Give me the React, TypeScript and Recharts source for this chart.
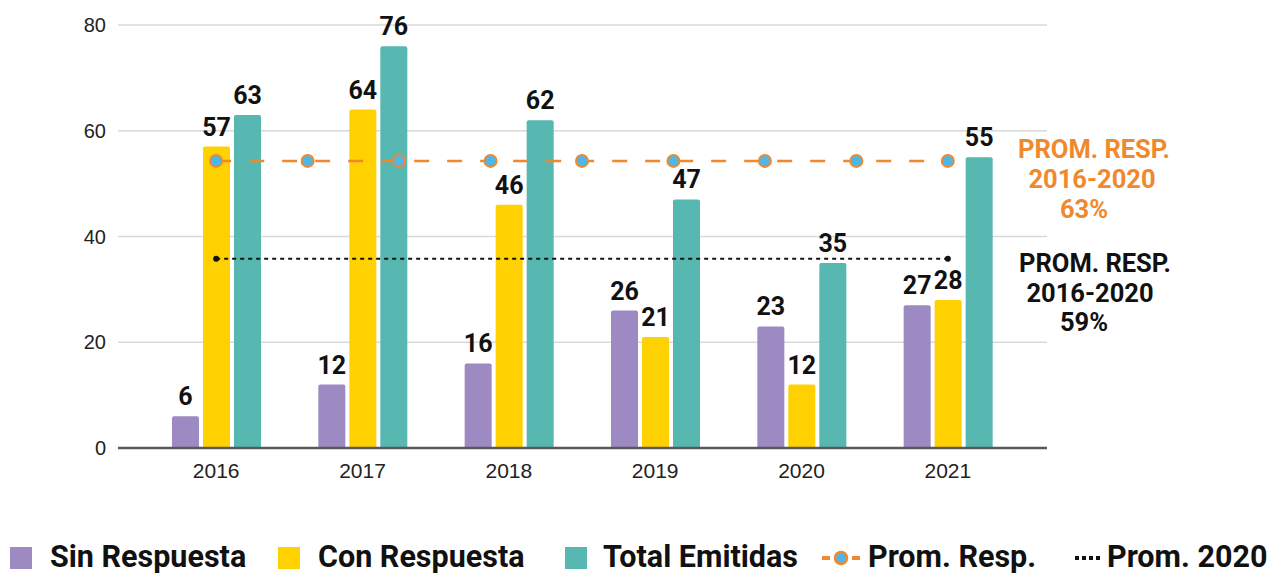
import React from 'react';
import { ComposedChart, Bar, Line, XAxis, YAxis, CartesianGrid, LabelList } from 'recharts';

const years = ['2016', '2017', '2018', '2019', '2020', '2021'];
const sinRespuesta = [6, 12, 16, 26, 23, 27];
const conRespuesta = [57, 64, 46, 21, 12, 28];
const totalEmitidas = [63, 76, 62, 47, 35, 55];
const yTicks = [0, 20, 40, 60, 80];

// Average lines (x = position along the year index axis)
const promRespX = [0, 0.625, 1.25, 1.875, 2.5, 3.125, 3.75, 4.375, 5];
const promRespY = [54.3, 54.3, 54.3, 54.3, 54.3, 54.3, 54.3, 54.3, 54.3];
const prom2020X = [0, 5];
const prom2020Y = [35.8, 35.8];

const annotOrange = ['PROM. RESP.', '2016-2020', '63%'];
const annotBlack = ['PROM. RESP.', '2016-2020', '59%'];
const legendLabels = ['Sin Respuesta', 'Con Respuesta', 'Total Emitidas', 'Prom. Resp.', 'Prom. 2020'];

const PURPLE = '#9e8ac2';
const YELLOW = '#ffd100';
const TEAL = '#57b7b1';
const ORANGE = '#f0892e';
const DOTBLUE = '#4db8e8';
const BOLD = 'Roboto, "Noto Sans", sans-serif';
const REG = '"Liberation Sans", Arial, sans-serif';

const data = years.map((y, i) => ({
  year: y,
  sin: sinRespuesta[i],
  con: conRespuesta[i],
  total: totalEmitidas[i],
}));
const promRespData = promRespX.map((x, i) => ({ x, v: promRespY[i] }));
const prom2020Data = prom2020X.map((x, i) => ({ x, v: prom2020Y[i] }));

const labelProps = {
  position: 'top' as const,
  offset: 11,
  fill: '#111',
  fontSize: 25,
  fontWeight: 700,
  fontFamily: BOLD,
};

const Square = ({ color }: { color: string }) => (
  <svg width={22} height={22} style={{ display: 'block' }}>
    <rect x={0} y={0} width={22} height={22} fill={color} />
  </svg>
);

export default function App() {
  const legendText: React.CSSProperties = {
    position: 'absolute',
    top: 541,
    fontFamily: BOLD,
    fontWeight: 700,
    fontSize: 30.5,
    lineHeight: '31px',
    color: '#111',
    whiteSpace: 'nowrap',
  };
  return (
    <div style={{ position: 'absolute', left: 0, top: 0, width: 1267, height: 574, background: '#fff', overflow: 'hidden' }}>
      <ComposedChart
        width={1267}
        height={500}
        data={data}
        margin={{ top: 25, right: 220, bottom: 22, left: 0 }}
        barGap={4}
      >
        <CartesianGrid vertical={false} stroke="#d9d9d9" strokeWidth={1.6} />
        <XAxis
          dataKey="year"
          type="category"
          height={30}
          padding={{ left: 25, right: 26 }}
          axisLine={{ stroke: '#595959', strokeWidth: 2.5 }}
          tickLine={false}
          tickSize={6}
          tickMargin={9}
          tick={{ fill: '#222', fontSize: 21, fontFamily: REG }}
        />
        <XAxis
          xAxisId="num"
          dataKey="x"
          type="number"
          domain={[-0.5, 5.5]}
          allowDataOverflow
          hide
          padding={{ left: 25, right: 26 }}
        />
        <YAxis
          domain={[0, 80]}
          ticks={yTicks}
          width={118}
          axisLine={false}
          tickLine={false}
          tickSize={6}
          tickMargin={6}
          tick={{ fill: '#222', fontSize: 20, fontFamily: REG }}
        />
        <Bar dataKey="sin" fill={PURPLE} barSize={27} radius={[2, 2, 0, 0]} isAnimationActive={false}>
          <LabelList dataKey="sin" {...labelProps} />
        </Bar>
        <Bar dataKey="con" fill={YELLOW} barSize={27} radius={[2, 2, 0, 0]} isAnimationActive={false}>
          <LabelList dataKey="con" {...labelProps} />
        </Bar>
        <Bar dataKey="total" fill={TEAL} barSize={27} radius={[2, 2, 0, 0]} isAnimationActive={false}>
          <LabelList dataKey="total" {...labelProps} />
        </Bar>
        <Line
          xAxisId="num"
          data={prom2020Data}
          dataKey="v"
          type="linear"
          stroke="#111"
          strokeWidth={2}
          strokeDasharray="4 4"
          dot={{ r: 3, fill: '#111', stroke: 'none', strokeDasharray: 'none' }}
          activeDot={false}
          isAnimationActive={false}
        />
        <Line
          xAxisId="num"
          data={promRespData}
          dataKey="v"
          type="linear"
          stroke={ORANGE}
          strokeWidth={2.5}
          strokeDasharray="15 18"
          dot={{ r: 6, fill: DOTBLUE, stroke: ORANGE, strokeWidth: 2, strokeDasharray: 'none' }}
          activeDot={false}
          isAnimationActive={false}
        />
      </ComposedChart>

      <svg width={1267} height={574} style={{ position: 'absolute', left: 0, top: 0, pointerEvents: 'none' }}>
        <g fontFamily={BOLD} fontWeight={700} fontSize={25.5} textAnchor="middle">
          <text x={1094} y={158} fill={ORANGE}>{annotOrange[0]}</text>
          <text x={1092} y={188} fill={ORANGE}>{annotOrange[1]}</text>
          <text x={1084} y={218} fill={ORANGE}>{annotOrange[2]}</text>
          <text x={1095} y={272} fill="#111">{annotBlack[0]}</text>
          <text x={1090} y={302} fill="#111">{annotBlack[1]}</text>
          <text x={1084} y={331} fill="#111">{annotBlack[2]}</text>
        </g>
      </svg>

      <div style={{ position: 'absolute', left: 10, top: 547 }}><Square color={PURPLE} /></div>
      <div style={{ ...legendText, left: 50 }}>{legendLabels[0]}</div>
      <div style={{ position: 'absolute', left: 278, top: 547 }}><Square color={YELLOW} /></div>
      <div style={{ ...legendText, left: 318 }}>{legendLabels[1]}</div>
      <div style={{ position: 'absolute', left: 565, top: 547 }}><Square color={TEAL} /></div>
      <div style={{ ...legendText, left: 603 }}>{legendLabels[2]}</div>
      <div style={{ position: 'absolute', left: 821, top: 547 }}>
        <svg width={40} height={22} style={{ display: 'block' }}>
          <line x1={1} y1={11} x2={9} y2={11} stroke={ORANGE} strokeWidth={4} />
          <line x1={31} y1={11} x2={39} y2={11} stroke={ORANGE} strokeWidth={4} />
          <circle cx={20} cy={11} r={6} fill={DOTBLUE} stroke={ORANGE} strokeWidth={2.5} />
        </svg>
      </div>
      <div style={{ ...legendText, left: 868 }}>{legendLabels[3]}</div>
      <div style={{ position: 'absolute', left: 1075, top: 547 }}>
        <svg width={25} height={22} style={{ display: 'block' }}>
          <line x1={0} y1={11} x2={25} y2={11} stroke="#111" strokeWidth={4} strokeDasharray="4 3" />
        </svg>
      </div>
      <div style={{ ...legendText, left: 1107 }}>{legendLabels[4]}</div>
    </div>
  );
}
